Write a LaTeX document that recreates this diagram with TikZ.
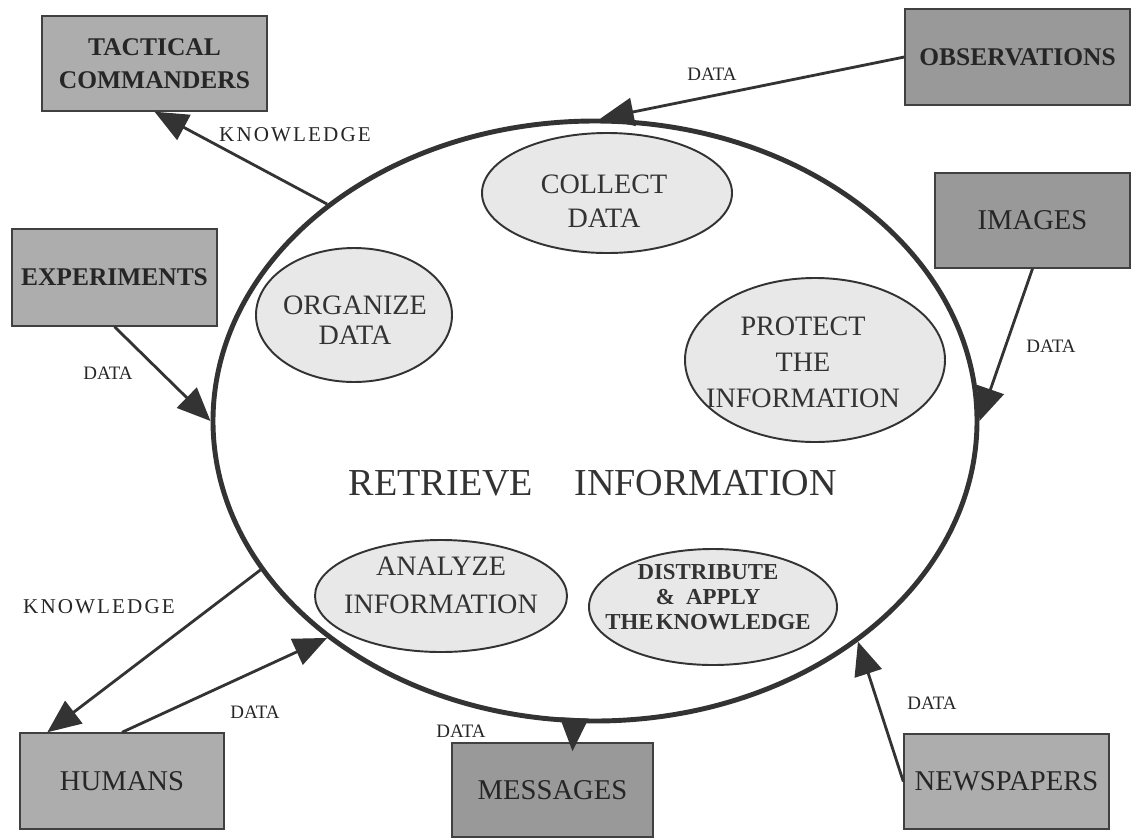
\documentclass[tikz,border=0pt]{standalone}
\usepackage{fontspec}
\setmainfont{Liberation Serif}
\usetikzlibrary{arrows.meta,shapes.geometric}

\begin{document}
\begin{tikzpicture}[x=0.02cm,y=-0.02cm,
  src/.style={draw=black!75, line width=0.8pt, fill=black!32, inner sep=0pt,
    align=center, text=black!85},
  srcdark/.style={src, fill=black!40},
  boldlbl/.style={font=\bfseries\fontsize{14.5}{18.7}\selectfont},
  plainlbl/.style={font=\fontsize{16.3}{19}\selectfont},
  task/.style={ellipse, draw=black!80, line width=1.1pt, fill=black!9, inner sep=0pt},
  tasktext/.style={align=center, text=black!80, inner sep=0pt},
  flow/.style={line width=1.6pt, draw=black!80, -{Triangle[length=19pt,width=16pt]}},
  lbl/.style={font=\fontsize{10.8}{12}\selectfont, text=black!85, inner sep=0pt},
  widelbl/.style={lbl, font=\addfontfeature{LetterSpace=10}\fontsize{12}{13}\selectfont},
]
\useasboundingbox (0,0) rectangle (1139,839);
\fill[white] (0,0) rectangle (1139,839);

% the central process
\node[ellipse, draw=black!80, line width=2.8pt, fill=white, inner sep=0pt,
      minimum width=764*0.02cm, minimum height=600*0.02cm] (core) at (595,421) {};

% sub-processes
\node[task, minimum width=250*0.02cm, minimum height=120*0.02cm] (collect) at (607,193) {};
\node[task, minimum width=196*0.02cm, minimum height=134*0.02cm] (organize) at (354,315) {};
\node[task, minimum width=260*0.02cm, minimum height=164*0.02cm] (protect) at (815,360) {};
\node[task, minimum width=252*0.02cm, minimum height=112*0.02cm] (analyze) at (441,596) {};
\node[task, minimum width=248*0.02cm, minimum height=116*0.02cm] (distribute) at (713,607) {};

\node[tasktext, font=\fontsize{16}{19.5}\selectfont] (collectT) at (604,201) {COLLECT\\DATA};
\node[tasktext, font=\fontsize{16}{17}\selectfont] (organizeT) at (355,320) {ORGANIZE\\DATA};
\node[tasktext, font=\fontsize{16}{20.4}\selectfont] (protectT) at (803,362) {PROTECT\\THE\\INFORMATION};
\node[tasktext, font=\fontsize{16}{21.5}\selectfont] (analyzeT) at (441,585) {ANALYZE\\INFORMATION};
\node[tasktext, font=\bfseries\fontsize{13}{14.2}\selectfont] (distributeT) at (708,597)
  {DISTRIBUTE\\\&\ \ APPLY\\THE\hspace{0.1em}KNOWLEDGE};

\node[tasktext, font=\fontsize{21.7}{24}\selectfont] (title) at (593,483)
  {RETRIEVE\hspace{18pt} INFORMATION};

% sources and consumers
\node[src, boldlbl, minimum width=225*0.02cm, minimum height=95*0.02cm] (tact) at (154.5,63.5) {TACTICAL\\COMMANDERS};
\node[srcdark, boldlbl, minimum width=225*0.02cm, minimum height=96*0.02cm] (obs) at (1017.5,57) {OBSERVATIONS};
\node[srcdark, plainlbl, minimum width=195*0.02cm, minimum height=95*0.02cm] (img) at (1032.5,220.5) {IMAGES};
\node[src, boldlbl, minimum width=205*0.02cm, minimum height=97*0.02cm] (exp) at (114.5,277.5) {EXPERIMENTS};
\node[src, plainlbl, minimum width=204*0.02cm, minimum height=96*0.02cm] (hum) at (122,781) {HUMANS};
\node[srcdark, plainlbl, minimum width=201*0.02cm, minimum height=94*0.02cm] (msg) at (552.5,790) {MESSAGES};
\node[src, plainlbl, minimum width=205*0.02cm, minimum height=95*0.02cm] (news) at (1006.5,781.5) {NEWSPAPERS};

% flows
\draw[flow] (core.141) -- (tact.south);
\draw[flow] (obs.west) -- (core.89);
\draw[flow] (img.south) -- (core.-0.5);
\draw[flow] (exp.south) -- (core.180);
\draw[flow] (core.204) -- ([xshift=28*0.02cm]hum.north west);
\draw[flow] (hum.north) -- (core.219);
\draw[flow] (core.266) -- ([xshift=20*0.02cm,yshift=-9*0.02cm]msg.north);
\draw[flow] (news.west) -- (core.320);

% flow labels
\node[widelbl] (kn1) at (295,135) {KNOWLEDGE};
\node[lbl] (dobs) at (712,74) {DATA};
\node[lbl] (dimg) at (1051,346) {DATA};
\node[lbl] (dexp) at (108,373) {DATA};
\node[widelbl] (kn2) at (99,607) {KNOWLEDGE};
\node[lbl] (dhum) at (255,712) {DATA};
\node[lbl] (dmsg) at (461,731) {DATA};
\node[lbl] (dnews) at (932,703) {DATA};
\end{tikzpicture}
\end{document}
